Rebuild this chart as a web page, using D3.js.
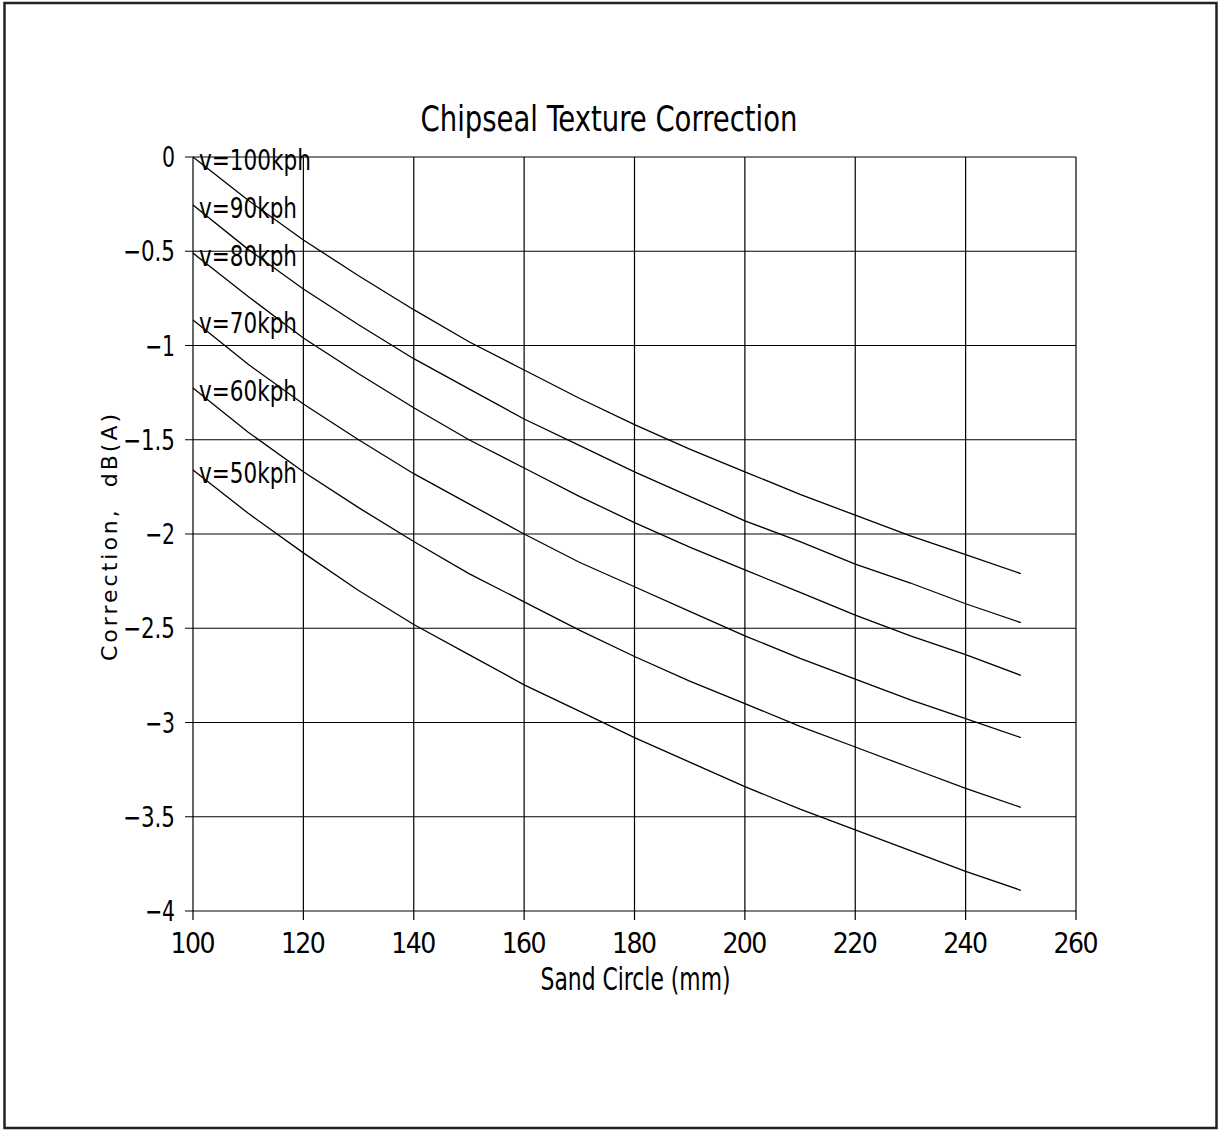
<!DOCTYPE html>
<html><head><meta charset="utf-8">
<script src="https://cdn.jsdelivr.net/npm/d3@7"></script>
<style>body{margin:0;background:#fff}svg{display:block}text{fill:#000}</style>
</head><body>
<script>
const sandCircle = [100,110,120,130,140,150,160,170,180,190,200,210,220,230,240,250];
const seriesNames = ["v=100kph","v=90kph","v=80kph","v=70kph","v=60kph","v=50kph"];
const v100 = [0,-0.23,-0.44,-0.63,-0.81,-0.98,-1.13,-1.28,-1.42,-1.55,-1.67,-1.79,-1.90,-2.01,-2.11,-2.21];
const v90  = [-0.255,-0.49,-0.70,-0.89,-1.07,-1.23,-1.39,-1.53,-1.67,-1.80,-1.93,-2.04,-2.16,-2.26,-2.37,-2.47];
const v80  = [-0.51,-0.74,-0.96,-1.15,-1.33,-1.50,-1.65,-1.80,-1.94,-2.07,-2.19,-2.31,-2.43,-2.54,-2.64,-2.75];
const v70  = [-0.865,-1.10,-1.31,-1.50,-1.68,-1.84,-2.00,-2.15,-2.28,-2.41,-2.54,-2.66,-2.77,-2.88,-2.98,-3.08];
const v60  = [-1.225,-1.46,-1.67,-1.86,-2.04,-2.21,-2.36,-2.51,-2.65,-2.78,-2.90,-3.02,-3.13,-3.24,-3.35,-3.45];
const v50  = [-1.66,-1.89,-2.10,-2.30,-2.48,-2.64,-2.80,-2.94,-3.08,-3.21,-3.34,-3.46,-3.57,-3.68,-3.79,-3.89];
const xTicks = [100,120,140,160,180,200,220,240,260];
const yTicks = [0,-0.5,-1,-1.5,-2,-2.5,-3,-3.5,-4];
const yTickLabels = ["0","\u22120.5","\u22121","\u22121.5","\u22122","\u22122.5","\u22123","\u22123.5","\u22124"];
const titleText = "Chipseal Texture Correction";
const xTitle = "Sand Circle (mm)";
const yTitle = "Correction,  dB(A)";

const allSeries = [v100,v90,v80,v70,v60,v50];
const W = 1220, H = 1131;
const L = 193, R = 1076, T = 157, B = 911;
const font = "'Liberation Sans Narrow','DejaVu Sans Condensed','Arial Narrow',sans-serif";

function labelWidth(s){
  let w = 0;
  for (const c of s) w += (c === "\u2212") ? 17 : (c === ".") ? 9 : 13;
  return w;
}

const svg = d3.select("body").append("svg").attr("width", W).attr("height", H);
svg.append("rect").attr("x",4.5).attr("y",3).attr("width",1212).attr("height",1125)
  .attr("fill","none").attr("stroke","#222").attr("stroke-width",2.5);

const x = d3.scaleLinear().domain([100,260]).range([L,R]);
const y = d3.scaleLinear().domain([-4,0]).range([B,T]);

// grid
const g = svg.append("g").attr("stroke","#000").attr("stroke-width",1.2);
g.selectAll(".vg").data(xTicks).join("line")
  .attr("x1",d=>x(d)).attr("x2",d=>x(d)).attr("y1",T).attr("y2",B+9);
g.selectAll(".hg").data(yTicks).join("line")
  .attr("y1",d=>y(d)).attr("y2",d=>y(d)).attr("x1",L-8).attr("x2",R);

// tick labels
svg.append("g").selectAll("text").data(xTicks).join("text")
  .attr("x",d=>x(d)).attr("y",953).attr("text-anchor","middle")
  .attr("font-family",font).attr("font-size",28)
  .attr("textLength",d=>String(d).length*15).attr("lengthAdjust","spacing")
  .text(d=>d);
svg.append("g").selectAll("text").data(yTicks).join("text")
  .attr("x",175).attr("y",d=>y(d)+10).attr("text-anchor","end")
  .attr("font-family",font).attr("font-size",28)
  .attr("textLength",(d,i)=>labelWidth(yTickLabels[i])).attr("lengthAdjust","spacingAndGlyphs")
  .text((d,i)=>yTickLabels[i]);

// lines
const line = d3.line().x((d,i)=>x(sandCircle[i])).y(d=>y(d));
svg.append("g").selectAll("path").data(allSeries).join("path")
  .attr("d",line).attr("fill","none").attr("stroke","#000").attr("stroke-width",1.3);

// series labels
svg.append("g").selectAll("text").data(allSeries).join("text")
  .attr("x",199).attr("y",d=>y(d[0])+13)
  .attr("font-family",font).attr("font-size",28)
  .attr("textLength",(d,i)=>seriesNames[i].length*14).attr("lengthAdjust","spacingAndGlyphs")
  .text((d,i)=>seriesNames[i]);

// titles
svg.append("text").attr("x",609).attr("y",131).attr("text-anchor","middle")
  .attr("font-family",font).attr("font-size",36)
  .attr("textLength",377).attr("lengthAdjust","spacingAndGlyphs").text(titleText);
svg.append("text").attr("x",(L+R)/2+1).attr("y",990).attr("text-anchor","middle")
  .attr("font-family",font).attr("font-size",32)
  .attr("textLength",190).attr("lengthAdjust","spacingAndGlyphs").text(xTitle);
svg.append("text").attr("transform",`translate(117,${(T+B)/2+2}) rotate(-90)`)
  .attr("text-anchor","middle").attr("font-family","'DejaVu Sans',sans-serif").attr("font-size",22)
  .attr("letter-spacing",3)
  .style("white-space","pre").text(yTitle);
</script>
</body></html>
